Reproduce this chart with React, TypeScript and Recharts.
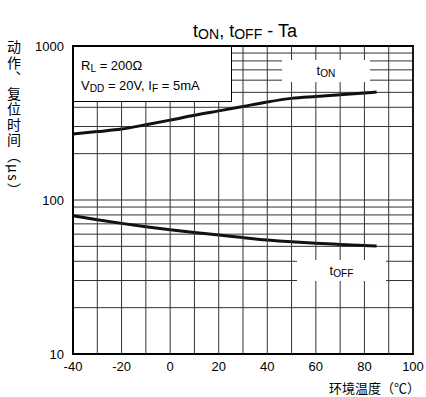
import { LineChart, Line, XAxis, YAxis, CartesianGrid, ReferenceArea } from "recharts";

const temps = [-40, -30, -20, -10, 0, 10, 20, 30, 40, 50, 60, 70, 80, 85];
const tOn = [268, 278, 289, 308, 330, 355, 379, 405, 433, 457, 470, 482, 495, 502];
const tOff = [79, 74.5, 70.5, 67, 64, 61.5, 59.3, 57, 55, 53.5, 52.4, 51.5, 50.6, 50.2];

// every 10 degrees gets a grid line, only every 20 is labelled
const xTicks = [-40, -30, -20, -10, 0, 10, 20, 30, 40, 50, 60, 70, 80, 90, 100];
const yTicks = [10, 20, 30, 40, 50, 60, 70, 80, 90, 100, 200, 300, 400, 500, 600, 700, 800, 900, 1000];
const yLabels = [10, 100, 1000];

const data = temps.map((t, i) => ({ t, on: tOn[i], off: tOff[i] }));

const W = 426;
const H = 397;
const margin = { top: 46, right: 13, bottom: 13, left: 13 };
const xAxisH = 30;
const plotH = H - margin.top - margin.bottom - xAxisH;

const font = "'Liberation Sans', Arial, sans-serif";
const cjk = "'Noto Sans CJK SC', sans-serif";

function Sub({ main, sub }: { main: string; sub: string }) {
  return (
    <span>
      {main}
      <span style={{ fontSize: "0.78em", position: "relative", top: "0.15em" }}>{sub}</span>
    </span>
  );
}

export default function App() {
  return (
    <div style={{ position: "absolute", left: 0, top: 0, width: W, height: H, background: "#fff", fontFamily: font }}>
      <LineChart width={W} height={H} data={data} margin={margin}>
        <CartesianGrid stroke="#333" strokeWidth={1} vertical={false} />
        {/* tick lines run up through the plot to act as the vertical grid */}
        <XAxis
          dataKey="t"
          type="number"
          domain={[-40, 100]}
          ticks={xTicks}
          interval={0}
          tickFormatter={(v: number) => (v % 20 === 0 ? String(v) : "")}
          tickSize={-plotH}
          tickMargin={plotH + 8}
          tickLine={{ stroke: "#333", strokeWidth: 1 }}
          axisLine={{ stroke: "#000", strokeWidth: 2 }}
          tick={{ fill: "#000", fontSize: 13, fontFamily: font }}
          height={xAxisH}
        />
        <YAxis
          type="number"
          scale="log"
          domain={[10, 1000]}
          ticks={yTicks}
          interval={0}
          tickFormatter={(v: number) => (yLabels.includes(v) ? String(v) : "")}
          allowDataOverflow
          tickLine={false}
          axisLine={{ stroke: "#000", strokeWidth: 2 }}
          tick={{ fill: "#000", fontSize: 13, fontFamily: font }}
          tickMargin={3}
          width={60}
        />
        <ReferenceArea x1={-40} x2={100} y1={10} y2={1000} fill="none" stroke="#000" strokeWidth={2} fillOpacity={0} />
        <Line dataKey="on" type="monotone" stroke="#111" strokeWidth={3} dot={false} isAnimationActive={false} />
        <Line dataKey="off" type="monotone" stroke="#111" strokeWidth={3} dot={false} isAnimationActive={false} />
      </LineChart>

      <div style={{ position: "absolute", left: 0, top: 21, width: 490, textAlign: "center", fontSize: 18 }}>
        <Sub main="t" sub="ON" />, <Sub main="t" sub="OFF" /> - Ta
      </div>

      <div
        style={{
          position: "absolute",
          left: 73,
          top: 46,
          width: 159,
          height: 56,
          background: "#fff",
          border: "1px solid #000",
          boxSizing: "border-box",
          fontSize: 13,
          padding: "9px 0 0 7px",
          lineHeight: "19px",
        }}
      >
        <div>
          <Sub main="R" sub="L" /> = 200Ω
        </div>
        <div>
          <Sub main="V" sub="DD" /> = 20V, <Sub main="I" sub="F" /> = 5mA
        </div>
      </div>

      <div style={{ position: "absolute", left: 282, top: 60, width: 88, height: 22, background: "#fff", textAlign: "center", fontSize: 13, lineHeight: "22px" }}>
        <Sub main="t" sub="ON" />
      </div>
      <div style={{ position: "absolute", left: 297, top: 260, width: 89, height: 21, background: "#fff", textAlign: "center", fontSize: 13, lineHeight: "21px" }}>
        <Sub main="t" sub="OFF" />
      </div>

      <div style={{ position: "absolute", left: 6, top: 40, writingMode: "vertical-rl", fontFamily: cjk, fontSize: 14, lineHeight: "15px", letterSpacing: 1.5 }}>
        动作、复位时间（μs）
      </div>
      <div style={{ position: "absolute", right: 6, top: 378, fontFamily: cjk, fontSize: 13 }}>环境温度（℃）</div>
    </div>
  );
}
